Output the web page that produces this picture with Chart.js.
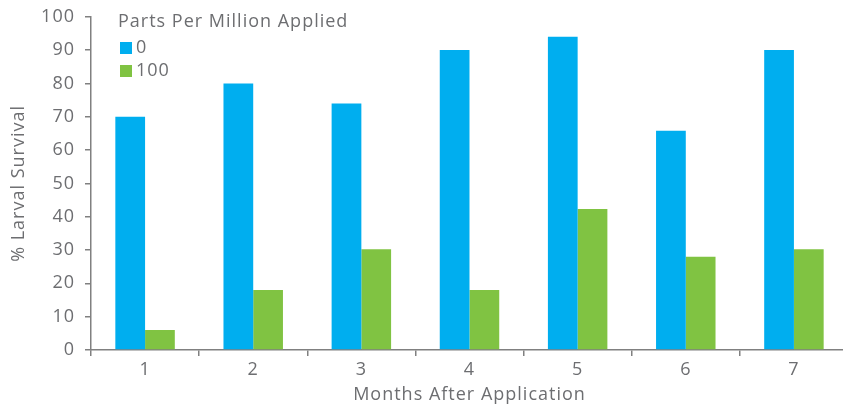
<!DOCTYPE html>
<html>
<head>
<meta charset="utf-8">
<script src="https://cdn.jsdelivr.net/npm/chart.js@4.4.0/dist/chart.umd.min.js"></script>
<style>
  html, body { margin: 0; padding: 0; background: #fff; overflow: hidden; }
  #wrap { width: 850px; height: 410px; margin-top: -4px; }
</style>
</head>
<body>
<div id="wrap"><canvas id="larvalChart"></canvas></div>
<script>
// Chart data
const months = ['1', '2', '3', '4', '5', '6', '7'];
const ppm0 = [70, 80, 74, 90, 94, 65.8, 90];
const ppm100 = [6, 18, 30.2, 18, 42.3, 28, 30.2];
const yTicks = [0, 10, 20, 30, 40, 50, 60, 70, 80, 90, 100];
const legendTitle = 'Parts Per Million Applied';

const gray = '#6d6e71';
const axisGray = '#808080';
const fontName = "'Open Sans', sans-serif";
const spacing = '1px';

// wider lettering, closer to the original typeface
const letterSpace = {
  id: 'letterSpace',
  beforeLayout(chart) { chart.ctx.letterSpacing = spacing; },
  beforeDraw(chart) { chart.ctx.letterSpacing = spacing; }
};

// Legend drawn inside the plot area, top left
const insideLegend = {
  id: 'insideLegend',
  afterDraw(chart) {
    const ctx = chart.ctx;
    ctx.save();
    ctx.letterSpacing = spacing;
    ctx.font = '18px ' + fontName;
    ctx.fillStyle = gray;
    ctx.textBaseline = 'middle';
    ctx.fillText(legendTitle, 118, 26);
    chart.data.datasets.forEach((ds, i) => {
      const y = 52 + i * 23;
      ctx.fillStyle = ds.backgroundColor;
      ctx.fillRect(120, y - 6, 12, 12);
      ctx.fillStyle = gray;
      ctx.fillText(ds.label, 136, y);
    });
    ctx.restore();
  }
};

new Chart('larvalChart', {
  type: 'bar',
  data: {
    labels: months,
    datasets: [
      { label: '0', data: ppm0, backgroundColor: '#00aeef', categoryPercentage: 0.55, barPercentage: 1.0 },
      { label: '100', data: ppm100, backgroundColor: '#80c342', categoryPercentage: 0.55, barPercentage: 1.0 }
    ]
  },
  options: {
    responsive: true,
    maintainAspectRatio: false,
    animation: false,
    layout: { padding: { top: 2, right: 2, left: 0, bottom: 0 } },
    plugins: {
      legend: { display: false },
      tooltip: { enabled: false }
    },
    scales: {
      x: {
        grid: { display: true, drawOnChartArea: false, offset: true, color: axisGray, tickLength: 6, lineWidth: 1.5 },
        border: { color: axisGray, width: 1.5 },
        ticks: { color: gray, font: { family: fontName, size: 18 }, padding: 3 },
        title: { display: true, text: 'Months After Application', color: gray, font: { family: fontName, size: 18 }, padding: { top: 0, bottom: 0 } },
        afterFit(scale) { scale.height = 56; }
      },
      y: {
        min: 0,
        max: 100,
        afterBuildTicks(scale) { scale.ticks = yTicks.map(v => ({ value: v })); },
        grid: { display: true, drawOnChartArea: false, color: axisGray, tickLength: 6, lineWidth: 1.5 },
        border: { color: axisGray, width: 1.5 },
        ticks: { color: gray, font: { family: fontName, size: 18 }, padding: 10 },
        title: { display: true, text: '% Larval Survival', color: gray, font: { family: fontName, size: 18 }, padding: { top: 8, bottom: 0 } },
        afterFit(scale) { scale.width = 91; }
      }
    }
  },
  plugins: [letterSpace, insideLegend]
});
</script>
</body>
</html>
